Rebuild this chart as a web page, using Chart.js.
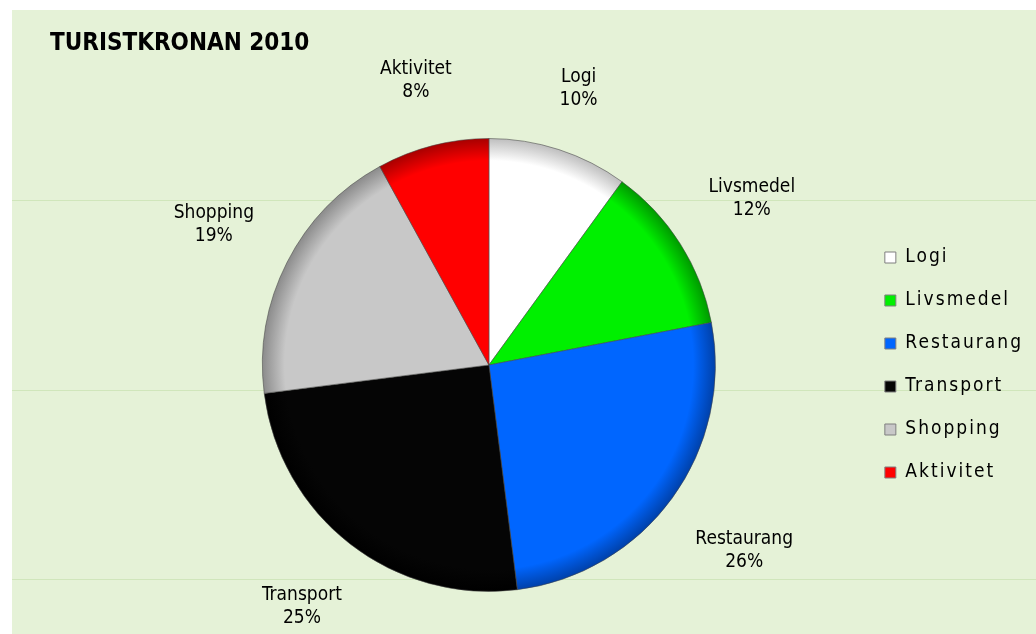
<!DOCTYPE html>
<html>
<head>
<meta charset="utf-8">
<script src="https://cdn.jsdelivr.net/npm/chart.js@4.4.1/dist/chart.umd.min.js"></script>
<style>
  html, body { margin: 0; padding: 0; background: #fff; }
  #wrap { width: 1036px; height: 634px; position: relative; }
</style>
</head>
<body>
<div id="wrap"><canvas id="pieChart"></canvas></div>
<script>
const chartTitle = "TURISTKRONAN 2010";
const categories = ["Logi", "Livsmedel", "Restaurang", "Transport", "Shopping", "Aktivitet"];
const shares = [10, 12, 26, 25, 19, 8];
const sliceColors = ["#FFFFFF", "#00F000", "#0066FF", "#050505", "#C8C8C8", "#FF0000"];
const edgeColors = ["#BDBDBD", "#009800", "#0040A8", "#000000", "#8A8A8A", "#A60000"];

const FONT = "'DejaVu Sans Condensed', 'DejaVu Sans', sans-serif";

// radial shade so the slices get a darker rim
function sliceFill(context) {
    const i = context.dataIndex;
    const area = context.chart.chartArea;
    if (!area) return sliceColors[i];
    const cx = (area.left + area.right) / 2;
    const cy = (area.top + area.bottom) / 2;
    const r = Math.min(area.right - area.left, area.bottom - area.top) / 2;
    const g = context.chart.ctx.createRadialGradient(cx, cy, 0, cx, cy, r);
    g.addColorStop(0, sliceColors[i]);
    g.addColorStop(0.9, sliceColors[i]);
    g.addColorStop(1, edgeColors[i]);
    return g;
}

// green backdrop + title
const backdrop = {
    id: 'backdrop',
    beforeLayout(chart) {
        chart.ctx.letterSpacing = '2px';
    },
    beforeDraw(chart) {
        const ctx = chart.ctx;
        ctx.save();
        ctx.letterSpacing = '0px';
        ctx.fillStyle = '#E5F2D7';
        ctx.fillRect(12, 10, chart.width - 12, chart.height - 10);
        ctx.strokeStyle = 'rgba(205,228,184,0.9)';
        ctx.lineWidth = 1;
        [200, 390, 579].forEach(y => {
            ctx.beginPath();
            ctx.moveTo(12, y + 0.5);
            ctx.lineTo(chart.width, y + 0.5);
            ctx.stroke();
        });
        ctx.fillStyle = '#000';
        ctx.font = 'bold 24px ' + FONT;
        ctx.textAlign = 'left';
        ctx.textBaseline = 'alphabetic';
        ctx.fillText(chartTitle, 50, 50);
        ctx.restore();
        ctx.letterSpacing = '2px'; // legend text is spaced out
    },
    afterDraw(chart) {
        chart.ctx.letterSpacing = '0px';
    }
};

// category + percent outside each slice
const sliceLabels = {
    id: 'sliceLabels',
    afterDatasetsDraw(chart) {
        const ctx = chart.ctx;
        const meta = chart.getDatasetMeta(0);
        const total = shares.reduce((a, b) => a + b, 0);
        const lh = 23;
        ctx.save();
        ctx.letterSpacing = '0px';
        ctx.font = '19px ' + FONT;
        ctx.fillStyle = '#000';
        ctx.textAlign = 'center';
        ctx.textBaseline = 'middle';
        meta.data.forEach((arc, i) => {
            const p = arc.getProps(['x', 'y', 'startAngle', 'endAngle', 'outerRadius'], true);
            const mid = (p.startAngle + p.endAngle) / 2;
            const lines = [categories[i], Math.round(shares[i] / total * 100) + '%'];
            const w = Math.max(...lines.map(t => ctx.measureText(t).width));
            const h = lh * lines.length;
            const dx = Math.cos(mid), dy = Math.sin(mid);
            const d = p.outerRadius + 36 + Math.abs(dx) * w / 2 + Math.abs(dy) * h / 2;
            const x = p.x + dx * d;
            const y = p.y + dy * d;
            lines.forEach((t, k) => ctx.fillText(t, x, y + (k - (lines.length - 1) / 2) * lh));
        });
        ctx.restore();
    }
};

var ctx = document.getElementById('pieChart');
var pie = new Chart(ctx, {
    type: 'pie',
    data: {
        labels: categories,
        datasets: [{
            data: shares,
            backgroundColor: sliceFill,
            borderColor: 'rgba(70,70,70,0.55)',
            borderWidth: 1
        }]
    },
    options: {
        responsive: true,
        maintainAspectRatio: false,
        animation: false,
        layout: { padding: { left: 117, top: 138, bottom: 42, right: 3 } },
        plugins: {
            title: { display: false },
            tooltip: { enabled: false },
            legend: {
                position: 'right',
                align: 'center',
                fullSize: false,
                labels: {
                    color: '#000',
                    font: { family: FONT, size: 19 },
                    boxWidth: 11,
                    boxHeight: 11,
                    padding: 24,
                    generateLabels: () => categories.map((c, i) => ({
                        text: c,
                        fillStyle: sliceColors[i],
                        strokeStyle: '#7F7F7F',
                        lineWidth: 1,
                        hidden: false,
                        index: i
                    }))
                }
            }
        }
    },
    plugins: [backdrop, sliceLabels]
});
</script>
</body>
</html>
